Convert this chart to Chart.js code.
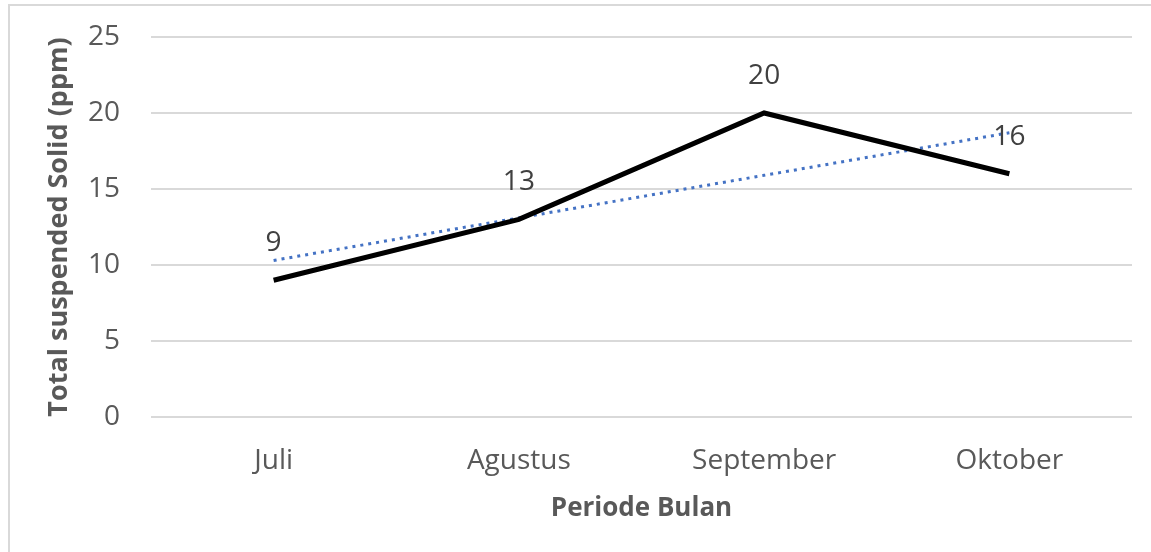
<!DOCTYPE html>
<html>
<head>
<meta charset="utf-8">
<script src="https://cdn.jsdelivr.net/npm/chart.js@4"></script>
<style>
body{margin:0;background:#fff;}
#frame{position:absolute;left:8px;top:4px;width:1160px;height:570px;border:2px solid #d9d9d9;}
#wrap{position:absolute;left:0;top:0;width:1151px;height:552px;}
</style>
</head>
<body>
<div id="frame"></div>
<div id="wrap"><canvas id="lineChart"></canvas></div>
<script>

// DATA

const months = ["Juli","Agustus","September","Oktober"];
const tss = [9,13,20,16];
const trend = [10.3,13.1,15.9,18.7];
const yTicks = [0,5,10,15,20,25];

const FONT = "'Open Sans', sans-serif";

// LABELS ABOVE POINTS

const pointLabels = {
id:"pointLabels",
afterDatasetsDraw(chart){
let ctx = chart.ctx;
let meta = chart.getDatasetMeta(0);
ctx.save();
ctx.font = "28px " + FONT;
ctx.fillStyle = "#404040";
ctx.textAlign = "center";
ctx.textBaseline = "middle";
meta.data.forEach(function(pt,i){
ctx.fillText(String(tss[i]), pt.x, pt.y - 37);
});
ctx.restore();
}
};

// LINE CHART

new Chart(
document.getElementById("lineChart"),
{
type:"line",
data:{
labels:months,
datasets:[{
label:"TSS",
data:tss,
borderColor:"#000000",
borderWidth:5,
pointRadius:0,
tension:0
},{
label:"Trend",
data:trend,
borderColor:"#4472c4",
borderWidth:3,
borderDash:[3,5],
pointRadius:0,
tension:0
}]
},
options:{
responsive:true,
maintainAspectRatio:false,
animation:false,
layout:{
padding:{left:39,right:19,top:37,bottom:24}
},
plugins:{
legend:{display:false},
tooltip:{enabled:false}
},
scales:{
x:{
offset:true,
afterFit(s){ s.height = 111; s.paddingLeft = 0; s.paddingRight = 0; },
grid:{display:false},
border:{display:false},
ticks:{
color:"#595959",
font:{family:FONT,size:28},
padding:19
},
title:{
display:true,
text:"Periode Bulan",
color:"#595959",
font:{family:FONT,size:26,weight:"bold"}
}
},
y:{
min:0,
max:25,
afterFit(s){ s.width = 112; s.paddingTop = 0; s.paddingBottom = 0; },
afterBuildTicks(s){
s.ticks = yTicks.map(function(v){ return {value:v}; });
},
grid:{color:"#d9d9d9",lineWidth:2,drawTicks:false},
border:{display:false},
ticks:{
color:"#595959",
font:{family:FONT,size:28},
padding:31
},
title:{
display:true,
text:"Total suspended Solid (ppm)",
color:"#595959",
font:{family:FONT,size:27,weight:"bold"}
}
}
}
},
plugins:[pointLabels]
}
);

</script>
</body>
</html>
